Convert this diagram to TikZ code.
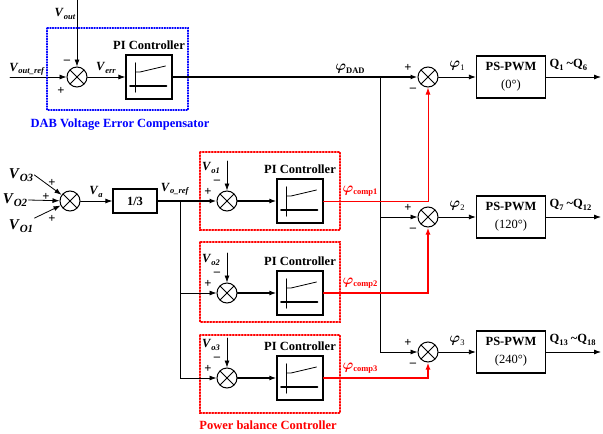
\documentclass[tikz,border=0pt]{standalone}
\usepackage{fontspec}
\setmainfont{Liberation Serif}
\usetikzlibrary{positioning,arrows.meta}

\newcommand{\sub}[1]{\raisebox{-0.4ex}{\fontsize{8.5}{9}\selectfont #1}}
\newcommand{\phis}{{\fontsize{14.4}{15}\selectfont\boldmath$\varphi$}}
\newcommand{\vlab}[1]{\textit{V}\sub{\textit{#1}}}
\newcommand{\vbig}[1]{{\fontsize{15}{16}\selectfont\textit{V}\raisebox{-0.5ex}{\fontsize{11}{12}\selectfont\textit{#1}}}}
\newcommand{\pisym}[1]{%
  \draw[line width=1.2pt] ([shift={(-13.5,-14)}]#1.center) -- ([shift={(-13.5,15)}]#1.center);
  \draw[line width=1.6pt] ([shift={(-19,9)}]#1.center) -- ([shift={(17.5,9)}]#1.center);
  \draw[line width=0.8pt] ([shift={(-13.5,-5)}]#1.center) -- ([shift={(-9,-5)}]#1.center)
    -- ([shift={(16.5,-11)}]#1.center);}

\tikzset{
  sumnode/.style={circle,draw,line width=1pt,minimum size=20pt,inner sep=0pt,
    path picture={\draw[line width=0.8pt]
      (path picture bounding box.south west) -- (path picture bounding box.north east)
      (path picture bounding box.north west) -- (path picture bounding box.south east);}},
  piblock/.style={draw,line width=1.3pt,minimum width=46pt,minimum height=44pt,inner sep=0pt},
  pwmblock/.style={draw,line width=1.3pt,minimum width=69pt,minimum height=42pt,inner sep=0pt,
    align=center,font=\bfseries\fontsize{12.5}{18}\selectfont},
  sign/.style={inner sep=0pt},
  thinline/.style={line width=0.8pt},
  thickline/.style={line width=1.6pt},
  redbox/.style={red,line width=1.4pt,dash pattern=on 1.4pt off 1.6pt},
  bluebox/.style={blue,line width=1.1pt,dash pattern=on 1.1pt off 1.5pt}
}

\begin{document}
\begin{tikzpicture}[x=1pt,y=-1pt,>={Latex[length=7pt,width=5pt]},line cap=round,
  font=\bfseries\fontsize{12.5}{15}\selectfont]
  \useasboundingbox (0,0) rectangle (603,434);

  % PS-PWM column
  \foreach \k/\y/\ang/\qa/\qb in {1/77/0/1/6,2/217/120/7/12,3/352/240/13/18}{
    \node[sumnode] (sphi\k) at (428,\y) {};
    \node[pwmblock] (pwm\k) at (511,\y) {PS-PWM\\{\mdseries(\ang°)}};
    \coordinate (out\k) at (601,\y);
    \draw[->,thinline] (sphi\k) -- (pwm\k);
    \draw[->,thinline] (pwm\k) -- (out\k);
    \node (phi\k) at (457,\y-11) {\phis\sub{\mdseries\k}};
    \node[anchor=west] (q\k) at (546,\y-12) {Q\sub{\qa} \textasciitilde Q\sub{\qb}};
    \node[sign] (pp\k) at (408,\y-9) {+};
    \node[sign] (mp\k) at (413,\y+13) {--};
  }

  % DAB voltage error compensator
  \node[sumnode] (sdab) at (77,77) {};
  \node[piblock] (pidab) at (149,77) {};
  \pisym{pidab}
  \node[above=1pt of pidab] (tdab) {PI Controller};
  \coordinate (voutin) at (77,0);
  \coordinate (vrefin) at (10,77);
  \node (vout) at (65,14) {\vlab{out}};
  \node (vref) at (27,69) {\vlab{out\_ref}};
  \node (verr) at (106,68) {\vlab{err}};
  \node[sign] (mdab) at (67,62) {--};
  \node[sign] (pdab) at (61,91) {+};
  \draw[->,thinline] (voutin) -- (sdab);
  \draw[->,thinline] (vrefin) -- (sdab);
  \draw[->,thinline] (sdab) -- (pidab);
  \draw[bluebox] (47,28) rectangle (188,110);
  \node[blue] (ldab) at (120,125) {DAB Voltage Error Compensator};

  \coordinate (brR) at (380,77);
  \draw[->,thickline] (pidab) -- (sphi1);
  \draw[->,thinline] (brR) |- (sphi2);
  \draw[->,thinline] (brR) |- (sphi3);
  \node (phidad) at (350,69) {\phis\sub{DAD}};

  % power balance controllers
  \foreach \k/\y/\t/\b/\w in {1/201/152/230/0.9pt,2/293/242/322/1.6pt,3/378/335/413/1.6pt}{
    \node[sumnode] (sbal\k) at (227,\y) {};
    \node[piblock] (pibal\k) at (300,\y) {};
    \pisym{pibal\k}
    \node[above=1pt of pibal\k] (tbal\k) {PI Controller};
    \draw[redbox] (200,\t) rectangle (340,\b);
    \coordinate (vtop\k) at (227,\y-40);
    \node[inner sep=1pt] (vo\k) at (211,\y-33) {\vlab{o\k}};
    \node[sign] (mb\k) at (217,\y-19) {--};
    \node[sign] (pb\k) at (208,\y-9) {+};
    \draw[->,thinline] (vtop\k) -- (sbal\k);
    \draw[->,thickline] (sbal\k) -- (pibal\k);
    \draw[->,red,line width=\w] (pibal\k) -| (sphi\k);
    \node[red] (phic\k) at (360,\y-10) {\phis\sub{comp\k}};
  }
  \node[red] (lbal) at (268,425) {Power balance Controller};

  % averaging of module voltages
  \node[sumnode] (sin) at (70,201) {};
  \node[inner sep=1pt] (vsrc3) at (21,175) {\vbig{O3}};
  \node[inner sep=1pt] (vsrc2) at (15,200) {\vbig{O2}};
  \node[inner sep=1pt] (vsrc1) at (21,226) {\vbig{O1}};
  \draw[->,thinline] (vsrc3.east) -- (sin);
  \draw[->,thinline] (vsrc2.east) -- (sin);
  \draw[->,thinline] (vsrc1.north east) -- (sin);
  \node[sign] (ps3) at (52,183) {+};
  \node[sign] (ps2) at (46,197) {+};
  \node[sign] (ps1) at (52,219) {+};
  \node[draw,line width=1.3pt,minimum width=44pt,minimum height=24pt,inner sep=0pt] (third) at (135,201) {1/3};
  \node (va) at (96,192) {\vlab{a}};
  \draw[->,thinline] (sin) -- (third);
  \node (voref) at (175,189) {\vlab{o\_ref}};
  \coordinate (brL) at (180,201);
  \draw[->,thickline] (third) -- (sbal1);
  \draw[->,thinline] (brL) |- (sbal2);
  \draw[->,thinline] (brL) |- (sbal3);
\end{tikzpicture}
\end{document}
